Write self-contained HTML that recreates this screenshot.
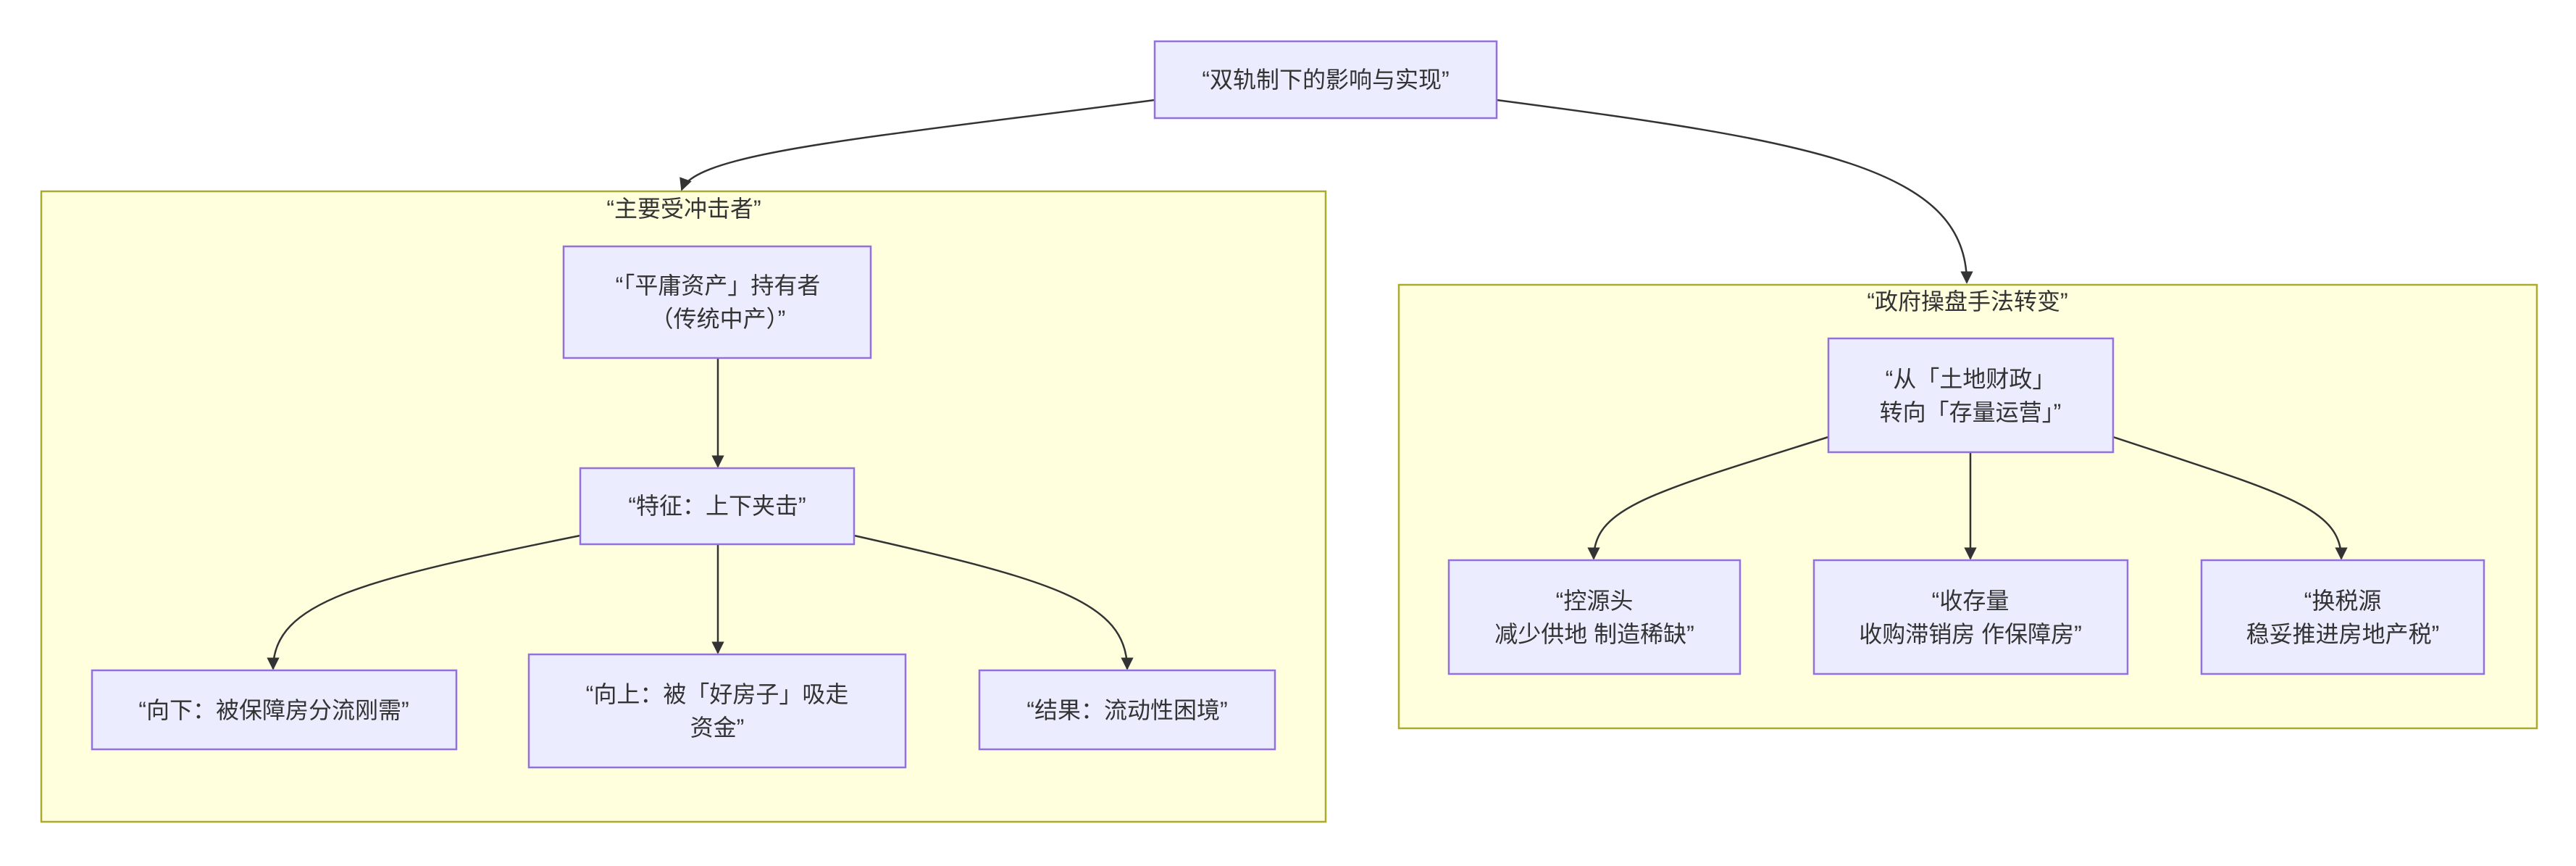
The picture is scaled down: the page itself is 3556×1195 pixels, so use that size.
<!DOCTYPE html>
<html><head><meta charset="utf-8"><style>
html,body{margin:0;padding:0;background:#fff;}
text{font-family:"Liberation Sans","Noto Sans CJK SC",sans-serif;font-size:32px;fill:#333;text-anchor:middle;dominant-baseline:central;}
.n{fill:#ECECFF;stroke:#9370DB;stroke-width:2.5;}
.c{fill:#ffffde;stroke:#aaaa33;stroke-width:2.5;}
.e{fill:none;stroke:#333;stroke-width:2.5;}
</style></head><body>
<svg width="3556" height="1190" viewBox="0 0 3556 1190" xmlns="http://www.w3.org/2000/svg">
<defs><marker id="a" viewBox="0 0 10 10" refX="9" refY="5" markerWidth="7" markerHeight="7" orient="auto"><path d="M0,0L10,5L0,10z" fill="#333"/></marker></defs>
<rect class="c" x="57" y="264" width="1773" height="870"/>
<rect class="c" x="1931" y="393" width="1571" height="612"/>
<text x="944" y="288">“主要受冲击者”</text>
<text x="2716" y="416">“政府操盘手法转变”</text>
<path class="e" marker-end="url(#a)" d="M1594,138 C1200,190 960,210 941,262"/>
<path class="e" marker-end="url(#a)" d="M2066,138 C2500,195 2715,230 2715,390"/>
<path class="e" marker-end="url(#a)" d="M991,494 L991,644"/>
<path class="e" marker-end="url(#a)" d="M801,739 C500,800 377,830 377,923"/>
<path class="e" marker-end="url(#a)" d="M991,751 L991,901"/>
<path class="e" marker-end="url(#a)" d="M1179,739 C1450,800 1556,830 1556,923"/>
<path class="e" marker-end="url(#a)" d="M2524,603 C2280,680 2200,700 2200,771"/>
<path class="e" marker-end="url(#a)" d="M2720,624 L2720,771"/>
<path class="e" marker-end="url(#a)" d="M2917,603 C3150,680 3232,700 3232,771"/>
<rect class="n" x="1594" y="57" width="472" height="106"/>
<text x="1830" y="110">“双轨制下的影响与实现”</text>
<rect class="n" x="778" y="340" width="424" height="154"/>
<text x="991" y="394">“「平庸资产」持有者</text>
<text x="991" y="440">（传统中产）”</text>
<rect class="n" x="801" y="646" width="378" height="105"/>
<text x="990" y="698">“特征：上下夹击”</text>
<rect class="n" x="127" y="925" width="503" height="109"/>
<text x="378" y="980">“向下：被保障房分流刚需”</text>
<rect class="n" x="730" y="903" width="520" height="156"/>
<text x="990" y="958">“向上：被「好房子」吸走</text>
<text x="990" y="1004">资金”</text>
<rect class="n" x="1352" y="925" width="408" height="109"/>
<text x="1556" y="980">“结果：流动性困境”</text>
<rect class="n" x="2524" y="467" width="393" height="157"/>
<text x="2720" y="523">“从「土地财政」</text>
<text x="2720" y="569">转向「存量运营」”</text>
<rect class="n" x="2000" y="773" width="402" height="157"/>
<text x="2201" y="829">“控源头</text>
<text x="2201" y="875">减少供地 制造稀缺”</text>
<rect class="n" x="2504" y="773" width="433" height="157"/>
<text x="2720" y="829">“收存量</text>
<text x="2720" y="875">收购滞销房 作保障房”</text>
<rect class="n" x="3039" y="773" width="390" height="157"/>
<text x="3234" y="829">“换税源</text>
<text x="3234" y="875">稳妥推进房地产税”</text>
</svg>
</body></html>
